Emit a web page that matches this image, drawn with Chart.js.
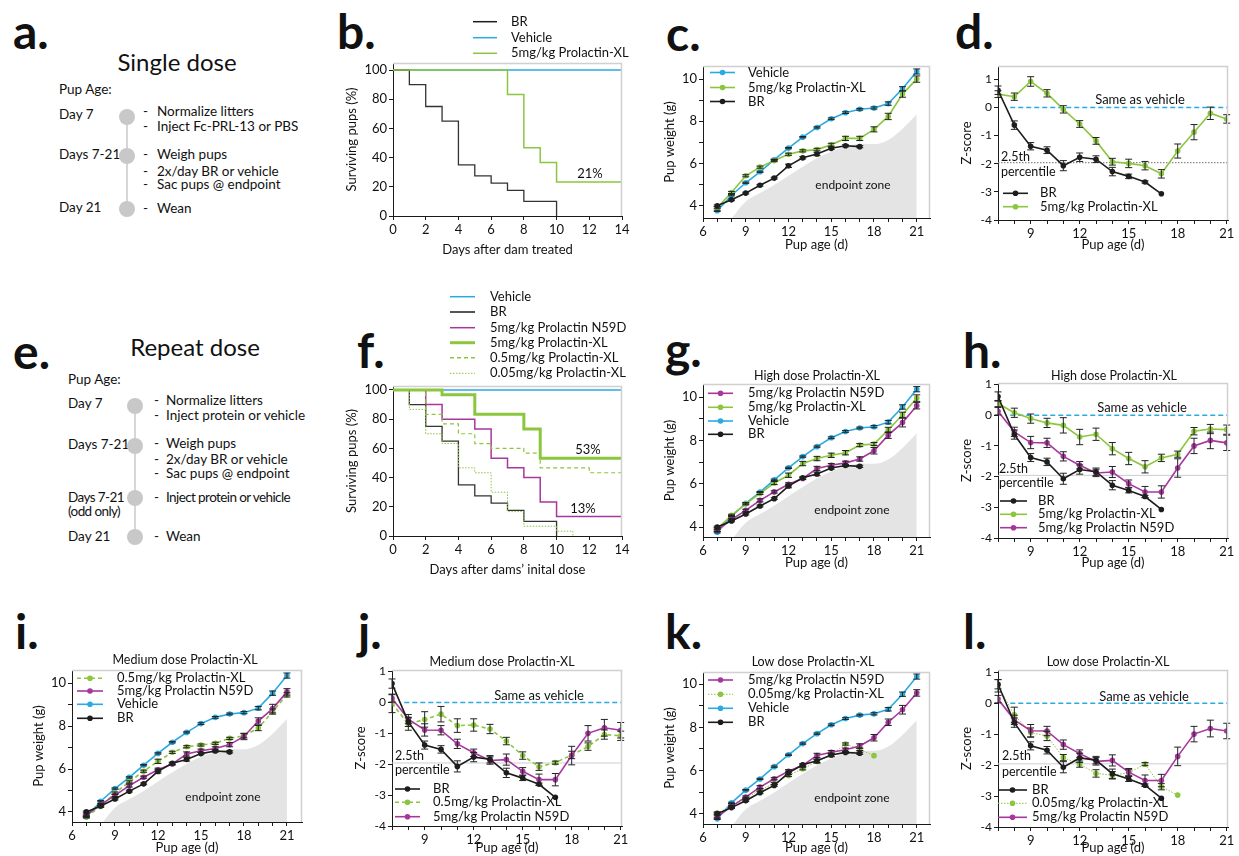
<!DOCTYPE html>
<html>
<head>
<meta charset="utf-8">
<title>Prolactin-XL pup survival and growth</title>
<script src="https://cdn.jsdelivr.net/npm/chart.js@4.4.1/dist/chart.umd.min.js"></script>
<style>
  body { margin: 0; width: 1239px; height: 856px; background: #fff; position: relative; overflow: hidden; font-family: Lato, "Open Sans", sans-serif; color: #111; }
  canvas { position: absolute; }
  .t { position: absolute; white-space: nowrap; font-size: 13.5px; line-height: 16px; }
  .big { position: absolute; font-size: 48px; font-weight: 700; line-height: 48px; }
  .head { position: absolute; white-space: nowrap; font-size: 24px; line-height: 28px; transform: translateX(-50%); }
  .dot { position: absolute; width: 16px; height: 16px; border-radius: 50%; background: #c8c8c8; }
  .rail { position: absolute; width: 2px; background: #d6d6d6; }
  .cond { letter-spacing: -0.6px; }
</style>
</head>
<body>

<!-- panel letters -->
<div class="big" style="left:13px;top:7px">a.</div>
<div class="big" style="left:337px;top:7px">b.</div>
<div class="big" style="left:666px;top:9px">c.</div>
<div class="big" style="left:955px;top:7px">d.</div>
<div class="big" style="left:13px;top:327px">e.</div>
<div class="big" style="left:357px;top:326px">f.</div>
<div class="big" style="left:665px;top:325px">g.</div>
<div class="big" style="left:963px;top:326px">h.</div>
<div class="big" style="left:15px;top:607px">i.</div>
<div class="big" style="left:358px;top:607px">j.</div>
<div class="big" style="left:665px;top:607px">k.</div>
<div class="big" style="left:963px;top:607px">l.</div>

<!-- a. single dose timeline -->
<div class="head" style="left:177px;top:48px">Single dose</div>
<div class="t" style="left:59px;top:81px">Pup Age:</div>
<div class="t" style="left:59px;top:106px">Day 7</div>
<div class="t" style="left:59px;top:146px">Days 7-21</div>
<div class="t" style="left:59px;top:199px">Day 21</div>
<div class="rail" style="left:126px;top:117px;height:92px"></div>
<div class="dot" style="left:119px;top:109px"></div>
<div class="dot" style="left:119px;top:148px"></div>
<div class="dot" style="left:119px;top:201px"></div>
<div class="t" style="left:143px;top:103px">-</div><div class="t" style="left:157px;top:103px">Normalize litters</div>
<div class="t" style="left:143px;top:118px">-</div><div class="t" style="left:157px;top:118px">Inject Fc-PRL-13 or PBS</div>
<div class="t" style="left:143px;top:146px">-</div><div class="t" style="left:157px;top:146px">Weigh pups</div>
<div class="t" style="left:143px;top:163px">-</div><div class="t" style="left:157px;top:163px">2x/day BR or vehicle</div>
<div class="t" style="left:143px;top:176px">-</div><div class="t" style="left:157px;top:176px">Sac pups @ endpoint</div>
<div class="t" style="left:143px;top:200px">-</div><div class="t" style="left:157px;top:200px">Wean</div>

<!-- e. repeat dose timeline -->
<div class="head" style="left:195px;top:333px">Repeat dose</div>
<div class="t" style="left:68px;top:371px">Pup Age:</div>
<div class="t" style="left:68px;top:395px">Day 7</div>
<div class="t" style="left:68px;top:436px">Days 7-21</div>
<div class="t cond" style="left:68px;top:489px">Days 7-21</div>
<div class="t cond" style="left:68px;top:503px">(odd only)</div>
<div class="t" style="left:68px;top:528px">Day 21</div>
<div class="rail" style="left:134px;top:406px;height:131px"></div>
<div class="dot" style="left:127px;top:398px"></div>
<div class="dot" style="left:127px;top:438px"></div>
<div class="dot" style="left:127px;top:490px"></div>
<div class="dot" style="left:127px;top:529px"></div>
<div class="t" style="left:154px;top:392px">-</div><div class="t" style="left:166px;top:392px">Normalize litters</div>
<div class="t" style="left:154px;top:407px">-</div><div class="t" style="left:166px;top:407px">Inject protein or vehicle</div>
<div class="t" style="left:154px;top:435px">-</div><div class="t" style="left:166px;top:435px">Weigh pups</div>
<div class="t" style="left:154px;top:451px">-</div><div class="t" style="left:166px;top:451px">2x/day BR or vehicle</div>
<div class="t" style="left:154px;top:465px">-</div><div class="t" style="left:166px;top:465px">Sac pups @ endpoint</div>
<div class="t" style="left:154px;top:489px">-</div><div class="t cond" style="left:166px;top:489px">Inject protein or vehicle</div>
<div class="t" style="left:154px;top:528px">-</div><div class="t" style="left:166px;top:528px">Wean</div>

<script>
// ---- survival (%), step curves ----
const sVehDays = [0, 14];
const sVeh = [100, 100];
const sBRdays = [0, 1, 2, 3, 4, 5, 6, 7, 8, 10];
const sBR = [100, 90, 75, 65, 35, 27.5, 22.5, 17.5, 10, 0];
const sXLsingleDays = [0, 7, 8, 9, 10, 14];
const sXLsingle = [100, 83.3, 46.7, 36.7, 23.3, 23.3];
const sN59Ddays = [0, 2, 3, 5, 6, 7, 8, 9, 10, 14];
const sN59D = [100, 90, 80, 73.3, 53.3, 46.7, 40, 23.3, 13.3, 13.3];
const sXL5days = [0, 3, 5, 8, 9, 14];
const sXL5 = [100, 96.7, 83.3, 73.3, 53.3, 53.3];
const sXL05days = [0, 2, 3, 4, 5, 6, 8, 9, 12, 14];
const sXL05 = [100, 83.3, 76.7, 70, 63.3, 60, 56.7, 46.7, 43.3, 43.3];
const sXL005days = [0, 1, 2, 3, 4, 5, 6, 7, 8, 10, 11];
const sXL005 = [100, 86.7, 70, 63.3, 46.7, 43.3, 30, 16.7, 6.7, 3.3, 0];

// ---- pup age (d) ----
const dayAll = [7, 8, 9, 10, 11, 12, 13, 14, 15, 16, 17, 18, 19, 20, 21];
const dayBR = [7, 8, 9, 10, 11, 12, 13, 14, 15, 16, 17];
const day18 = [7, 8, 9, 10, 11, 12, 13, 14, 15, 16, 17, 18];

// ---- pup weight (g) with error ----
const wVehicle = [3.76, 4.50, 5.09, 5.61, 6.18, 6.73, 7.25, 7.71, 8.12, 8.41, 8.57, 8.63, 8.84, 9.54, 10.36];
const wVehicleErr = [0.03, 0.03, 0.03, 0.03, 0.03, 0.03, 0.03, 0.03, 0.04, 0.04, 0.04, 0.05, 0.08, 0.1, 0.12];
const wBR = [4.00, 4.28, 4.60, 4.97, 5.31, 5.89, 6.27, 6.45, 6.72, 6.84, 6.80];
const wBRErr = [0.04, 0.04, 0.04, 0.04, 0.04, 0.08, 0.05, 0.08, 0.05, 0.05, 0.05];
const wXLsingle = [3.92, 4.63, 5.42, 5.83, 6.14, 6.44, 6.60, 6.66, 6.89, 7.19, 7.19, 7.62, 8.23, 9.29, 10.0];
const wXLsingleErr = [0.04, 0.05, 0.05, 0.05, 0.05, 0.05, 0.05, 0.06, 0.07, 0.1, 0.1, 0.12, 0.15, 0.15, 0.15];
const wXL5 = [3.92, 4.54, 5.07, 5.55, 6.03, 6.39, 6.93, 7.16, 7.31, 7.43, 7.78, 7.83, 8.48, 9.18, 9.95];
const wXL5Err = [0.05, 0.05, 0.05, 0.05, 0.07, 0.1, 0.1, 0.1, 0.1, 0.1, 0.07, 0.07, 0.12, 0.12, 0.15];
const wN59D = [3.85, 4.34, 4.77, 5.23, 5.62, 5.97, 6.24, 6.70, 6.85, 6.96, 7.14, 7.52, 8.24, 8.82, 9.60];
const wN59DErr = [0.05, 0.05, 0.05, 0.07, 0.05, 0.07, 0.05, 0.1, 0.08, 0.08, 0.1, 0.15, 0.15, 0.2, 0.15];
const wXL05 = [3.77, 4.26, 4.88, 5.40, 5.90, 6.36, 6.78, 7.04, 7.12, 7.20, 7.43, 7.55, 7.91, 8.68, 9.46];
const wXL05Err = [0.05, 0.05, 0.05, 0.05, 0.05, 0.1, 0.05, 0.05, 0.05, 0.05, 0.05, 0.1, 0.12, 0.12, 0.1];
const wXL005 = [4.03, 4.34, 4.69, 5.10, 5.40, 5.77, 6.08, 6.42, 6.72, 7.23, 6.98, 6.69];
const wXL005Err = [0.05, 0.05, 0.05, 0.05, 0.05, 0.05, 0.05, 0.08, 0.08, 0.05, 0.05, 0];

// endpoint zone boundary (g)
const zoneDays = [8, 9, 10, 11, 12, 13, 14, 15, 16, 17, 18, 19, 20, 21];
const zoneW = [3.4, 4.2, 4.6, 4.98, 5.42, 5.85, 6.25, 6.56, 6.8, 6.92, 6.92, 7.12, 7.65, 8.33];

// ---- z-scores with error ----
const zBR = [0.61, -0.63, -1.38, -1.52, -2.07, -1.77, -1.84, -2.28, -2.45, -2.65, -3.07];
const zBRErr = [0.15, 0.15, 0.13, 0.12, 0.18, 0.15, 0.12, 0.15, 0.08, 0.04, 0];
const zXLsingle = [0.47, 0.38, 0.92, 0.50, -0.07, -0.59, -1.19, -1.93, -1.99, -2.07, -2.36, -1.55, -0.88, -0.21, -0.41];
const zXLsingleErr = [0.12, 0.13, 0.17, 0.13, 0.13, 0.12, 0.12, 0.12, 0.15, 0.15, 0.15, 0.25, 0.27, 0.22, 0.15];
const zXL5 = [0.38, 0.08, -0.11, -0.25, -0.33, -0.71, -0.62, -1.09, -1.41, -1.68, -1.39, -1.27, -0.52, -0.45, -0.47];
const zXL5Err = [0.1, 0.15, 0.15, 0.15, 0.25, 0.25, 0.2, 0.2, 0.2, 0.2, 0.12, 0.1, 0.12, 0.15, 0.15];
const zN59D = [0.13, -0.54, -0.89, -0.90, -1.34, -1.63, -1.88, -1.85, -2.23, -2.50, -2.50, -1.72, -1.00, -0.82, -0.90];
const zN59DErr = [0.12, 0.15, 0.2, 0.15, 0.15, 0.12, 0.12, 0.18, 0.12, 0.18, 0.2, 0.3, 0.25, 0.27, 0.25];
const zXL05 = [-0.03, -0.70, -0.55, -0.38, -0.75, -0.73, -0.86, -1.25, -1.72, -2.08, -1.95, -1.70, -1.43, -1.04, -1.08];
const zXL05Err = [0.3, 0.2, 0.25, 0.25, 0.22, 0.2, 0.15, 0.12, 0.12, 0.12, 0.05, 0.12, 0.12, 0.15, 0.15];
const zXL005 = [0.56, -0.38, -0.95, -1.06, -1.76, -1.97, -2.27, -2.33, -2.25, -1.97, -2.70, -2.97];
const zXL005Err = [0.2, 0.25, 0.15, 0.15, 0.1, 0.1, 0.12, 0.12, 0.1, 0.05, 0.1, 0];

// reference lines: same as vehicle (0) and 2.5th percentile (-1.96)
const refZeroDays = [7.75, 21.1];
const refZero = [0, 0];
const refPctDays = [7, 21.1];
const refPct = [-1.96, -1.96];

// ---- ticks ----
const survTicksX = [0, 2, 4, 6, 8, 10, 12, 14];
const survTicksY = [0, 20, 40, 60, 80, 100];
const ageTicksAll = [6, 7, 8, 9, 10, 11, 12, 13, 14, 15, 16, 17, 18, 19, 20, 21];
const ageLabels = [6, 9, 12, 15, 18, 21];
const zAgeTicksAll = [7, 8, 9, 10, 11, 12, 13, 14, 15, 16, 17, 18, 19, 20, 21];
const zAgeLabels = [9, 12, 15, 18, 21];
const weightTicks = [4, 5, 6, 7, 8, 9, 10];
const weightLabels = [4, 6, 8, 10];
const zTicks = [-4, -3, -2, -1, 0, 1];

const BLUE = '#29abe2', GREEN = '#8cc63f', MAG = '#a8379d', BLACK = '#1c1c1c', ZONE = '#e4e4e4';
Chart.defaults.font.family = 'Lato, "Open Sans", sans-serif';
Chart.defaults.color = '#111';

const pts = (xs, ys) => xs.map((x, i) => ({x, y: ys[i]}));
const step = (xs, ys, color, w, dash) => ({data: pts(xs, ys), stepped: true, borderColor: color, borderWidth: w, borderDash: dash || [], pointRadius: 0, fill: false});
const series = (xs, ys, err, color, dash, w) => ({data: pts(xs, ys), err, borderColor: color, backgroundColor: color, borderWidth: w || 1.6, borderDash: dash || [], pointRadius: 2.8, pointBorderWidth: 0, fill: false});
const zone = () => ({data: pts(zoneDays, zoneW), borderColor: 'rgba(0,0,0,0)', borderWidth: 0, backgroundColor: ZONE, pointRadius: 0, fill: 'start', cubicInterpolationMode: 'monotone'});
const zeroLine = () => ({data: pts(refZeroDays, refZero), borderColor: BLUE, borderWidth: 1.5, borderDash: [5, 3], pointRadius: 0, fill: false});
const pctLine = (dotted) => ({data: pts(refPctDays, refPct), borderColor: dotted ? '#8a8a8a' : '#c9cfd6', borderWidth: dotted ? 1.2 : 1, borderDash: dotted ? [1.5, 1.5] : [], pointRadius: 0, fill: false});

const L = {
  br: {label: 'BR', color: BLACK},
  veh: {label: 'Vehicle', color: BLUE},
  xl5: {label: '5mg/kg Prolactin-XL', color: GREEN},
  n59d: {label: '5mg/kg Prolactin N59D', color: MAG},
  xl05: {label: '0.5mg/kg Prolactin-XL', color: GREEN, dash: [4, 3]},
  xl005: {label: '0.05mg/kg Prolactin-XL', color: GREEN, dash: [1.5, 1.5], width: 1}
};

function deco(p) {
  return {
    id: 'deco',
    afterDatasetsDraw(chart) {
      const ctx = chart.ctx, ys = chart.scales.y;
      chart.data.datasets.forEach((ds, i) => {
        if (!ds.err) return;
        const meta = chart.getDatasetMeta(i);
        ctx.save();
        ctx.strokeStyle = '#222';
        ctx.lineWidth = 1;
        meta.data.forEach((pt, j) => {
          const e = ds.err[j];
          if (!e) return;
          const v = ds.data[j].y;
          const y1 = ys.getPixelForValue(v + e), y2 = ys.getPixelForValue(v - e);
          ctx.beginPath();
          ctx.moveTo(pt.x, y1); ctx.lineTo(pt.x, y2);
          ctx.moveTo(pt.x - 3.5, y1); ctx.lineTo(pt.x + 3.5, y1);
          ctx.moveTo(pt.x - 3.5, y2); ctx.lineTo(pt.x + 3.5, y2);
          ctx.stroke();
        });
        ctx.restore();
      });
    },
    afterDraw(chart) {
      const ctx = chart.ctx, a = chart.chartArea;
      ctx.save();
      // light frame on top and right
      ctx.strokeStyle = '#d0d0d0';
      ctx.lineWidth = 1.5;
      ctx.beginPath();
      ctx.moveTo(a.left, a.top + 0.5); ctx.lineTo(a.right - 0.5, a.top + 0.5); ctx.lineTo(a.right - 0.5, a.bottom);
      ctx.stroke();
      // legend
      const lg = p.legend;
      if (lg) {
        lg.items.forEach((it, k) => {
          const y = lg.ys[k] - p.ct;
          ctx.strokeStyle = it.color;
          ctx.lineWidth = it.width || lg.width || 1.6;
          ctx.setLineDash(it.dash || []);
          ctx.beginPath();
          ctx.moveTo(lg.x1 - p.cl, y); ctx.lineTo(lg.x2 - p.cl, y);
          ctx.stroke();
          ctx.setLineDash([]);
          if (lg.dot) {
            ctx.fillStyle = it.color;
            ctx.beginPath();
            ctx.arc((lg.x1 + lg.x2) / 2 - p.cl, y, 2.8, 0, Math.PI * 2);
            ctx.fill();
          }
          ctx.fillStyle = '#111';
          ctx.font = '13px Lato, "Open Sans", sans-serif';
          ctx.textAlign = 'left';
          ctx.textBaseline = 'middle';
          ctx.fillText(it.label, lg.tx - p.cl, y);
        });
      }
      // free text
      (p.notes || []).forEach(n => {
        ctx.fillStyle = '#111';
        ctx.font = (n.size || 13) + 'px Lato, "Open Sans", sans-serif';
        ctx.textAlign = n.align || 'center';
        ctx.textBaseline = 'middle';
        ctx.fillText(n.text, n.x - p.cl, n.y - p.ct);
      });
      ctx.restore();
    }
  };
}

function addPanel(p) {
  const w = p.cr - p.cl, h = p.cb - p.ct;
  const cv = document.createElement('canvas');
  cv.width = w; cv.height = h;
  Object.assign(cv.style, {left: p.cl + 'px', top: p.ct + 'px', width: w + 'px', height: h + 'px'});
  document.body.appendChild(cv);
  const axis = (a, fit) => ({
    type: 'linear', min: a.min, max: a.max,
    afterFit: fit,
    afterBuildTicks: s => { s.ticks = a.ticks.map(v => ({value: v})); },
    border: {display: true, color: '#1a1a1a', width: 1},
    grid: {drawOnChartArea: false, drawTicks: true, tickLength: 4, tickColor: '#1a1a1a', tickWidth: 1},
    ticks: {autoSkip: false, maxRotation: 0, padding: 2, color: '#111', font: {size: a.size || 13},
      callback: v => a.labels.includes(v) ? String(v) : ''},
    title: {display: true, text: a.title, color: '#111', font: {size: 13}, padding: 0}
  });
  new Chart(cv, {
    type: 'line',
    data: {datasets: p.datasets},
    options: {
      responsive: false, animation: false, events: [],
      layout: {padding: {top: p.box.t - p.ct, right: p.cr - p.box.r, left: 0, bottom: 0}},
      plugins: {legend: {display: false}, tooltip: {enabled: false}},
      scales: {
        x: axis(p.x, s => { s.height = p.cb - p.box.b; }),
        y: axis(p.y, s => { s.width = p.box.l - p.cl; })
      }
    },
    plugins: [deco(p)]
  });
}

const survX = {min: 0, max: 14, ticks: survTicksX, labels: survTicksX};
const ageX = {min: 6, max: 21.93, ticks: ageTicksAll, labels: ageLabels, title: 'Pup age (d)'};
const zAgeX = {min: 7, max: 21.08, ticks: zAgeTicksAll, labels: zAgeLabels, title: 'Pup age (d)'};
const weightY = (min, max) => ({min, max, ticks: weightTicks, labels: weightLabels, title: 'Pup weight (g)'});
const zY = max => ({min: -4, max, ticks: zTicks, labels: zTicks, title: 'Z-score', size: 12});

// b.
addPanel({
  box: {l: 393, t: 63, r: 622, b: 216}, cl: 344, ct: 8, cr: 640, cb: 258,
  x: Object.assign({title: 'Days after dam treated'}, survX),
  y: {min: 0, max: 104.8, ticks: survTicksY, labels: survTicksY, title: 'Surviving pups (%)'},
  datasets: [
    step(sXLsingleDays, sXLsingle, GREEN, 1.5),
    step(sBRdays, sBR, '#333', 1.3),
    step(sVehDays, sVeh, BLUE, 1.5)
  ],
  legend: {x1: 473, x2: 497, tx: 511, ys: [21.7, 37.7, 53.3], width: 1.5, items: [L.br, L.veh, L.xl5]},
  notes: [{text: '21%', x: 590, y: 174}]
});

// c.
addPanel({
  box: {l: 703, t: 66, r: 930, b: 218}, cl: 662, ct: 55, cr: 945, cb: 253,
  x: ageX, y: weightY(3.42, 10.62),
  datasets: [
    series(dayBR, wBR, wBRErr, BLACK),
    series(dayAll, wXLsingle, wXLsingleErr, GREEN),
    series(dayAll, wVehicle, wVehicleErr, BLUE),
    zone()
  ],
  legend: {x1: 710, x2: 735, tx: 748, ys: [72.5, 87.5, 101.5], dot: true, items: [L.veh, L.xl5, L.br]},
  notes: [{text: 'endpoint zone', x: 853, y: 185, size: 12}]
});

// d.
addPanel({
  box: {l: 998, t: 66, r: 1228, b: 220}, cl: 959, ct: 55, cr: 1239, cb: 253,
  x: zAgeX, y: zY(1.47),
  datasets: [
    series(dayBR, zBR, zBRErr, BLACK),
    series(dayAll, zXLsingle, zXLsingleErr, GREEN),
    zeroLine(), pctLine(true)
  ],
  legend: {x1: 1003, x2: 1028, tx: 1040, ys: [193.3, 206.7], dot: true, items: [L.br, L.xl5]},
  notes: [
    {text: 'Same as vehicle', x: 1140, y: 100},
    {text: '2.5th', x: 1001, y: 157, align: 'left', size: 12.5},
    {text: 'percentile', x: 1001, y: 172, align: 'left', size: 12.5}
  ]
});

// f.
addPanel({
  box: {l: 393, t: 386, r: 622, b: 536}, cl: 344, ct: 285, cr: 640, cb: 578,
  x: Object.assign({title: 'Days after dams\u2019 inital dose'}, survX),
  y: {min: 0, max: 102.7, ticks: survTicksY, labels: survTicksY, title: 'Surviving pups (%)'},
  datasets: [
    step(sXL5days, sXL5, GREEN, 3),
    step(sXL05days, sXL05, GREEN, 1.2, [4, 3]),
    step(sXL005days, sXL005, GREEN, 1, [1.5, 1.5]),
    step(sN59Ddays, sN59D, MAG, 1.5),
    step(sBRdays, sBR, '#333', 1.3),
    step(sVehDays, sVeh, BLUE, 1.5)
  ],
  legend: {x1: 450, x2: 475, tx: 490, ys: [296.7, 312, 327.7, 342.7, 357.7, 373.3], width: 1.5,
    items: [L.veh, L.br, L.n59d, Object.assign({}, L.xl5, {width: 3}), L.xl05, L.xl005]},
  notes: [{text: '53%', x: 588, y: 450}, {text: '13%', x: 583, y: 509}]
});

// g.
addPanel({
  box: {l: 703, t: 384, r: 930, b: 537}, cl: 662, ct: 360, cr: 945, cb: 571,
  x: ageX, y: weightY(3.54, 10.6),
  datasets: [
    series(dayBR, wBR, wBRErr, BLACK),
    series(dayAll, wN59D, wN59DErr, MAG),
    series(dayAll, wXL5, wXL5Err, GREEN),
    series(dayAll, wVehicle, wVehicleErr, BLUE),
    zone()
  ],
  legend: {x1: 708, x2: 733, tx: 748, ys: [393.3, 407.3, 421, 434.3], dot: true, items: [L.n59d, L.xl5, L.veh, L.br]},
  notes: [{text: 'High dose Prolactin-XL', x: 817, y: 375.7, size: 12.5}, {text: 'endpoint zone', x: 852, y: 510, size: 12}]
});

// h.
addPanel({
  box: {l: 998, t: 383, r: 1228, b: 538}, cl: 959, ct: 360, cr: 1239, cb: 571,
  x: zAgeX, y: zY(1.05),
  datasets: [
    series(dayBR, zBR, zBRErr, BLACK),
    series(dayAll, zN59D, zN59DErr, MAG),
    series(dayAll, zXL5, zXL5Err, GREEN),
    zeroLine(), pctLine(false)
  ],
  legend: {x1: 1000, x2: 1027, tx: 1038, ys: [501, 514.3, 527.7], dot: true, items: [L.br, L.xl5, L.n59d]},
  notes: [
    {text: 'High dose Prolactin-XL', x: 1114, y: 375.7, size: 12.5},
    {text: 'Same as vehicle', x: 1142, y: 408.3},
    {text: '2.5th', x: 999, y: 469, align: 'left', size: 12.5},
    {text: 'percentile', x: 999, y: 483, align: 'left', size: 12.5}
  ]
});

// i.
addPanel({
  box: {l: 72, t: 670, r: 302, b: 822}, cl: 31, ct: 650, cr: 318, cb: 856,
  x: Object.assign({}, ageX, {max: 22.05}), y: weightY(3.53, 10.62),
  datasets: [
    series(dayBR, wBR, wBRErr, BLACK),
    series(dayAll, wN59D, wN59DErr, MAG),
    series(dayAll, wXL05, wXL05Err, GREEN, [4, 3]),
    series(dayAll, wVehicle, wVehicleErr, BLUE),
    zone()
  ],
  legend: {x1: 77, x2: 103, tx: 117, ys: [678.3, 691, 704.3, 718.3], dot: true, items: [L.xl05, L.n59d, L.veh, L.br]},
  notes: [{text: 'Medium dose Prolactin-XL', x: 185, y: 660, size: 12.5}, {text: 'endpoint zone', x: 223, y: 797, size: 12}]
});

// j.
addPanel({
  box: {l: 392, t: 670, r: 622, b: 826}, cl: 353, ct: 650, cr: 640, cb: 856,
  x: zAgeX, y: zY(1.05),
  datasets: [
    series(dayBR, zBR, zBRErr, BLACK),
    series(dayAll, zN59D, zN59DErr, MAG),
    series(dayAll, zXL05, zXL05Err, GREEN, [4, 3]),
    zeroLine(), pctLine(false)
  ],
  legend: {x1: 395, x2: 420, tx: 433, ys: [789, 802.3, 816.7], dot: true, items: [L.br, L.xl05, L.n59d]},
  notes: [
    {text: 'Medium dose Prolactin-XL', x: 502, y: 662.3, size: 12.5},
    {text: 'Same as vehicle', x: 539, y: 695.7},
    {text: '2.5th', x: 395, y: 755.7, align: 'left', size: 12.5},
    {text: 'percentile', x: 395, y: 770, align: 'left', size: 12.5}
  ]
});

// k.
addPanel({
  box: {l: 703, t: 672, r: 930, b: 824}, cl: 662, ct: 650, cr: 945, cb: 856,
  x: ageX, y: weightY(3.52, 10.57),
  datasets: [
    series(dayBR, wBR, wBRErr, BLACK),
    series(dayAll, wN59D, wN59DErr, MAG),
    series(day18, wXL005, wXL005Err, GREEN, [1.5, 1.5], 1),
    series(dayAll, wVehicle, wVehicleErr, BLUE),
    zone()
  ],
  legend: {x1: 708, x2: 733, tx: 748, ys: [680, 694.3, 708.3, 722.3], dot: true, items: [L.n59d, L.xl005, L.veh, L.br]},
  notes: [{text: 'Low dose Prolactin-XL', x: 813, y: 662.3, size: 12.5}, {text: 'endpoint zone', x: 852, y: 798, size: 12}]
});

// l.
addPanel({
  box: {l: 998, t: 670, r: 1228, b: 827}, cl: 959, ct: 650, cr: 1239, cb: 856,
  x: zAgeX, y: zY(1.07),
  datasets: [
    series(dayBR, zBR, zBRErr, BLACK),
    series(dayAll, zN59D, zN59DErr, MAG),
    series(day18, zXL005, zXL005Err, GREEN, [1.5, 1.5], 1),
    zeroLine(), pctLine(false)
  ],
  legend: {x1: 998, x2: 1027, tx: 1032, ys: [790, 803.3, 817.3], dot: true, items: [L.br, L.xl005, L.n59d]},
  notes: [
    {text: 'Low dose Prolactin-XL', x: 1108, y: 662.3, size: 12.5},
    {text: 'Same as vehicle', x: 1144, y: 696.7},
    {text: '2.5th', x: 1002, y: 755.7, align: 'left', size: 12.5},
    {text: 'percentile', x: 1002, y: 772.3, align: 'left', size: 12.5}
  ]
});
</script>
</body>
</html>
